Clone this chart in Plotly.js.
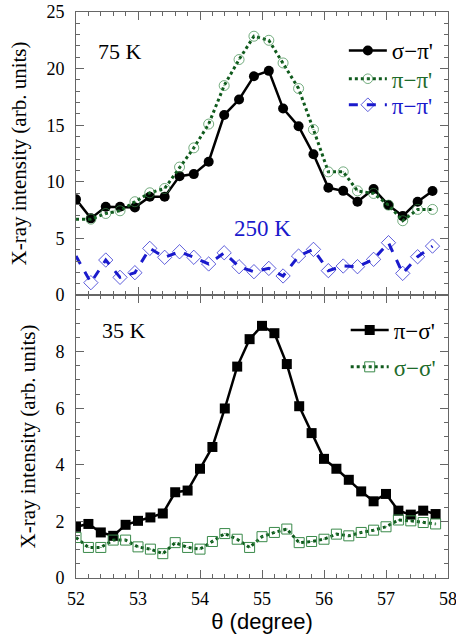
<!DOCTYPE html>
<html><head><meta charset="utf-8">
<script src="https://cdn.plot.ly/plotly-3.0.1.min.js"></script>
<style>body{margin:0;padding:0;background:#fff}#chart{width:456px;height:639px}</style>
</head><body><div id="chart"></div>
<script>
// Top panel (75 K / 250 K)
var thetaTop = [52.0, 52.24, 52.48, 52.71, 52.95, 53.19, 53.43, 53.67, 53.9, 54.14, 54.39, 54.63, 54.87, 55.11, 55.34, 55.59, 55.83, 56.07, 56.31, 56.54, 56.8, 57.04, 57.27, 57.51, 57.75];
var sigmaPi75 = [8.45, 6.77, 7.8, 7.8, 7.74, 8.68, 8.68, 10.5, 10.68, 11.77, 15.9, 17.27, 19.33, 19.8, 16.48, 14.9, 12.44, 9.47, 9.2, 8.24, 9.36, 7.94, 6.97, 8.24, 9.18];
var piPi75 = [6.7, 6.7, 7.2, 7.44, 8.24, 9.03, 9.41, 11.3, 13.0, 15.1, 18.5, 20.8, 22.86, 22.5, 20.5, 18.24, 14.62, 10.88, 10.88, 9.2, 8.97, 7.94, 6.56, 7.56, 7.56];
var piPi250 = [3.44, 1.09, 3.09, 1.56, 1.97, 4.12, 3.33, 3.82, 3.33, 2.74, 3.73, 2.5, 2.06, 2.35, 1.68, 3.44, 4.03, 2.15, 2.56, 2.5, 3.15, 4.62, 1.91, 3.38, 4.32];
// Bottom panel (35 K)
var thetaBot = [52.0, 52.2, 52.4, 52.6, 52.8, 53.0, 53.2, 53.4, 53.6, 53.8, 54.0, 54.2, 54.4, 54.6, 54.8, 55.0, 55.2, 55.4, 55.6, 55.8, 56.0, 56.2, 56.4, 56.6, 56.8, 57.0, 57.2, 57.4, 57.6, 57.8];
var piSigma35 = [1.81, 1.91, 1.61, 1.49, 1.88, 2.02, 2.14, 2.28, 3.03, 3.09, 3.86, 4.63, 5.99, 7.47, 8.44, 8.91, 8.65, 7.56, 6.07, 5.12, 4.21, 3.86, 3.47, 3.06, 2.71, 2.97, 2.38, 2.24, 2.38, 2.26];
var sigmaSigma35 = [1.43, 1.08, 1.08, 1.34, 1.34, 1.1, 1.02, 0.86, 1.25, 1.08, 1.02, 1.29, 1.57, 1.37, 1.08, 1.46, 1.61, 1.73, 1.25, 1.29, 1.37, 1.55, 1.49, 1.61, 1.69, 1.81, 2.05, 2.02, 1.96, 1.91];
var xTicks = [52, 53, 54, 55, 56, 57, 58];
var topTicks = [0, 5, 10, 15, 20, 25];
var botTicks = [0, 2, 4, 6, 8];

var GREEN = '#3a8a4a', GREEN_D = '#0f5a1c', BLUE = '#1a1acc';
function sizes(s){return thetaTop.map(function(v,i){return i===0?0:s;});}

var traces = [
 {x: thetaTop, y: sigmaPi75, xaxis:'x2', yaxis:'y2', mode:'lines+markers', name:"σ−π'",
  line:{color:'#000', width:2.5}, marker:{symbol:'circle', size:10, color:'#000'}, legend:'legend'},
 {x: thetaTop, y: piPi75, xaxis:'x2', yaxis:'y2', mode:'lines+markers', name:"<span style='color:#1e6b2a'>π−π'</span>",
  line:{color:GREEN_D, width:3, dash:'dot'}, marker:{symbol:'circle-open-dot', size:sizes(10), color:GREEN, line:{width:1}}, legend:'legend4'},
 {x: thetaTop, y: piPi250, xaxis:'x2', yaxis:'y2', mode:'lines+markers', name:"<span style='color:#1a1acc'>π−π'</span>",
  line:{color:BLUE, width:3, dash:'dash'}, marker:{symbol:'diamond-open', size:sizes(11), color:BLUE, line:{width:1}}, legend:'legend5'},
 {x: thetaBot, y: piSigma35, xaxis:'x', yaxis:'y', mode:'lines+markers', name:"π−σ'",
  line:{color:'#000', width:2.5}, marker:{symbol:'square', size:10, color:'#000'}, legend:'legend2'},
 {x: thetaBot, y: sigmaSigma35, xaxis:'x', yaxis:'y', mode:'lines+markers', name:"<span style='color:#1e6b2a'>σ−σ'</span>",
  line:{color:GREEN_D, width:3, dash:'dot'}, marker:{symbol:'square-open-dot', size:10, color:GREEN, line:{width:1}}, legend:'legend3'}
];

var SERIF = 'Liberation Serif, Times New Roman, serif';
var AX = '#666';
function xax(extra){
  var o = {range:[52,58], tickvals:xTicks, ticks:'inside', ticklen:8, tickcolor:AX, showline:true, linecolor:AX, linewidth:1,
    mirror:'ticks', showgrid:false, zeroline:false, tickfont:{family:SERIF, size:18, color:'#000'},
    ticklabeloverflow:'allow', ticklabelstandoff:4,
    minor:{dtick:0.2, ticks:'inside', ticklen:4, tickcolor:AX, showgrid:false}};
  for (var k in extra) o[k]=extra[k];
  return o;
}
function yax(extra){
  var o = {ticks:'inside', ticklen:8, tickcolor:AX, showline:true, linecolor:AX, linewidth:1, mirror:'ticks',
    showgrid:false, zeroline:false, tickfont:{family:SERIF, size:18, color:'#000'}, ticklabelstandoff:7,
    title:{text:'X-ray intensity (arb. units)', font:{family:SERIF, size:21, color:'#000'}, standoff:14}};
  for (var k in extra) o[k]=extra[k];
  return o;
}
function leg(x, y){
  return {x:x, y:y, xanchor:'left', yanchor:'middle', bgcolor:'rgba(0,0,0,0)', itemwidth:38,
    font:{family:SERIF, size:23, color:'#000'}};
}
var layout = {
  width:456, height:639, margin:{l:76, r:8, t:12, b:61}, paper_bgcolor:'#fff', plot_bgcolor:'#fff',
  showlegend:true,
  xaxis: xax({anchor:'y', title:{text:'θ (degree)', font:{family:'Liberation Sans, Arial, sans-serif', size:22, color:'#000'}, standoff:6}}),
  xaxis2: xax({anchor:'y2', matches:'x', showticklabels:false}),
  yaxis: yax({domain:[0,0.5], range:[0,10], tickvals:botTicks, minor:{dtick:0.5, ticks:'inside', ticklen:4, tickcolor:AX}}),
  yaxis2: yax({domain:[0.5,1], range:[0,25], tickvals:topTicks, minor:{dtick:1, ticks:'inside', ticklen:4, tickcolor:AX}}),
  legend: leg(0.72, 0.932),
  legend4: leg(0.72, 0.882),
  legend5: leg(0.72, 0.836),
  legend2: leg(0.725, 0.438),
  legend3: leg(0.725, 0.373),
  annotations:[
    {text:'75 K', xref:'paper', yref:'paper', x:0.055, y:0.93, xanchor:'left', yanchor:'middle', showarrow:false, font:{family:SERIF, size:22, color:'#000'}},
    {text:'250 K', xref:'paper', yref:'paper', x:0.42, y:0.617, xanchor:'left', yanchor:'middle', showarrow:false, font:{family:SERIF, size:23, color:BLUE}},
    {text:'35 K', xref:'paper', yref:'paper', x:0.065, y:0.437, xanchor:'left', yanchor:'middle', showarrow:false, font:{family:SERIF, size:22, color:'#000'}}
  ]
};
Plotly.newPlot('chart', traces, layout, {displayModeBar:false, staticPlot:true});
</script></body></html>
